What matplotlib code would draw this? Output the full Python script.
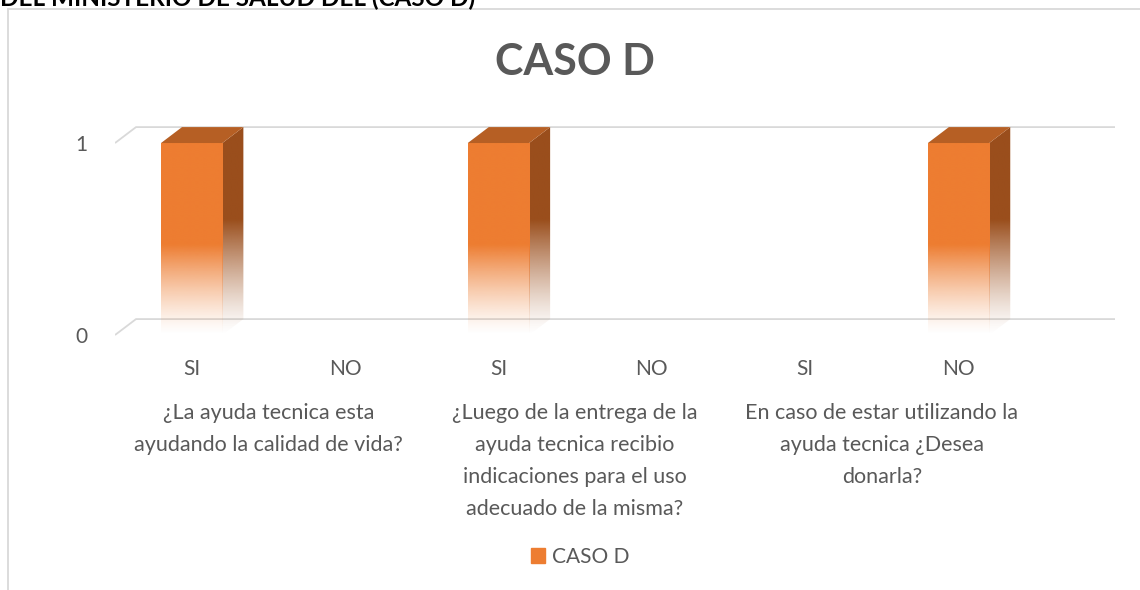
import numpy as np
import matplotlib.pyplot as plt
import matplotlib.patches as mpatches
from matplotlib.colors import to_rgb

plt.rcParams['font.family'] = ['Lato', 'DejaVu Sans']

# data
respuestas = ["SI", "NO", "SI", "NO", "SI", "NO"]
valores = [1, 0, 1, 0, 0, 1]
preguntas = [
    "¿La ayuda tecnica esta\nayudando la calidad de vida?",
    "¿Luego de la entrega de la\nayuda tecnica recibio\nindicaciones para el uso\nadecuado de la misma?",
    "En caso de estar utilizando la\nayuda tecnica ¿Desea\ndonarla?",
]
serie = "CASO D"

front_col = "#ED7D31"
side_col = "#9A4E1C"
top_col = "#B65F24"
grid_col = "#D9D9D9"
text_col = "#595959"

bar_w = 0.4
dx, dy = 0.137, 0.083  # 3d depth in data units


def gradient_fill(ax, patch, color, extent, solid_from=0.47):
    # vertical fade to white at the bottom, clipped to the patch
    h = 200
    ys = np.linspace(extent[2], extent[3], h)
    alpha = np.clip(ys / solid_from, 0, 1) ** 1.3
    img = np.zeros((h, 2, 4))
    img[..., :3] = to_rgb(color)
    img[..., 3] = alpha[:, None]
    im = ax.imshow(img, extent=extent, origin='lower', aspect='auto',
                   interpolation='bilinear', zorder=patch.get_zorder())
    im.set_clip_path(patch)


fig = plt.figure(figsize=(11.4, 5.9), dpi=100)
ax = fig.add_axes([115 / 1140, 1 - 345 / 590, 1000 / 1140, 230 / 590])
xlim = (-0.5, 6.02)
ylim = (-0.052, 1.146)

x = np.arange(len(respuestas))

# perspective gridlines
for yv in [0, 1]:
    ax.plot([xlim[0], xlim[0] + dx, xlim[1]], [yv, yv + dy, yv + dy],
            color=grid_col, lw=1.3, zorder=0, solid_capstyle='butt')

bars = ax.bar(x, valores, width=bar_w, color='none', edgecolor='none', zorder=3)
for b, v in zip(bars, valores):
    if v <= 0:
        continue
    x0, x1 = b.get_x(), b.get_x() + b.get_width()
    gradient_fill(ax, b, front_col, (x0, x1, 0, v))
    side = mpatches.Polygon([(x1, 0), (x1, v), (x1 + dx, v + dy), (x1 + dx, dy)],
                            closed=True, fc='none', ec='none', zorder=2)
    ax.add_patch(side)
    gradient_fill(ax, side, side_col, (x1, x1 + dx, 0, v + dy), solid_from=0.6)
    top = mpatches.Polygon([(x0, v), (x1, v), (x1 + dx, v + dy), (x0 + dx, v + dy)],
                           closed=True, fc=top_col, ec='none', zorder=3)
    ax.add_patch(top)

ax.set_xlim(xlim)
ax.set_ylim(ylim)
for s in ax.spines.values():
    s.set_visible(False)
ax.set_xticks(x)
ax.set_xticklabels(respuestas, fontsize=15, color=text_col)
ax.set_yticks([0, 1])
ax.set_yticklabels(["0", "1"], fontsize=15, color=text_col)
ax.tick_params(axis='x', length=0, pad=10)
ax.tick_params(axis='y', length=0, pad=20)

for i, q in enumerate(preguntas):
    ax.annotate(q, xy=(2 * i + 0.5, 0), xycoords=('data', 'axes fraction'),
                xytext=(0, -42), textcoords='offset points',
                ha='center', va='top', fontsize=15.5, color=text_col,
                linespacing=1.75)

fig.text(575 / 1140, 1 - 62 / 590, "CASO D", ha='center', va='center',
         fontsize=31, fontweight='bold', color=text_col)

fig.text(0.0, 1 - 6 / 590, "DEL MINISTERIO DE SALUD DEL (CASO D)", ha='left',
         va='baseline', fontsize=17.5, fontweight='bold', color='black')

# chart area border
fig.patches.append(mpatches.Rectangle((8 / 1140, -0.1), 1.2, 1.1 - 9 / 590,
                                      transform=fig.transFigure, fill=False,
                                      ec=grid_col, lw=1.3))

handle = mpatches.Patch(color=front_col, label=serie)
fig.legend(handles=[handle], loc='center', bbox_to_anchor=(580 / 1140, 1 - 557 / 590),
           frameon=False, fontsize=15, labelcolor=text_col, handlelength=0.7,
           handleheight=0.7, handletextpad=0.3)

fig.savefig("out.png", dpi=100, facecolor='white')
